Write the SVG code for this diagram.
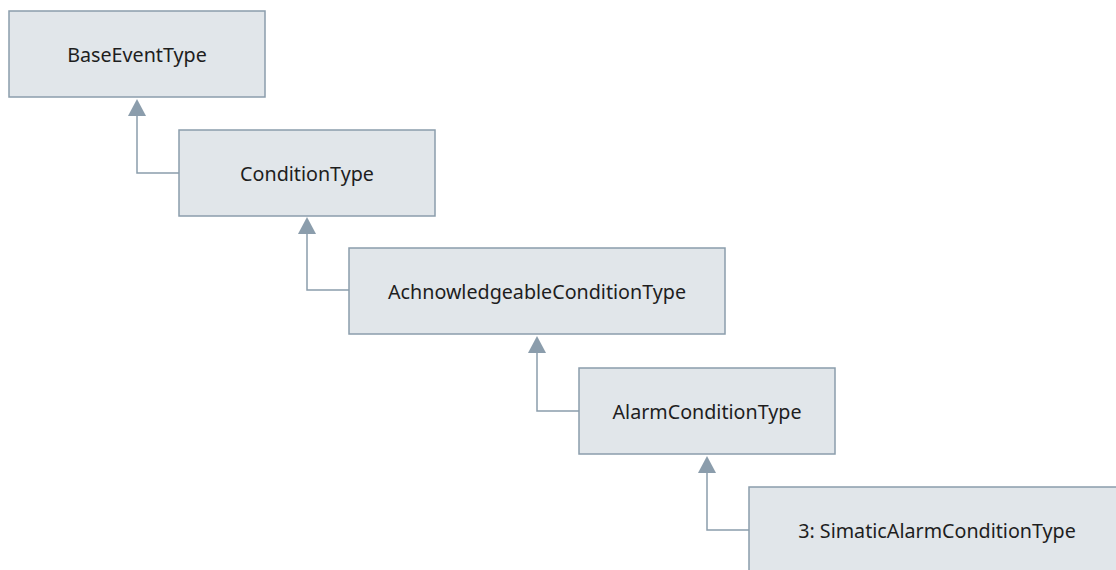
<svg xmlns="http://www.w3.org/2000/svg" width="1116" height="570" viewBox="0 0 1116 570">
<defs>
<style>
.box{fill:#e1e6ea;stroke:#8b9dac;stroke-width:1.5}
.lbl{font-family:"Noto Sans","Open Sans","DejaVu Sans",sans-serif;font-size:19.7px;fill:#1e1e1e;text-anchor:middle;dominant-baseline:central}
.con{fill:none;stroke:#8b9dac;stroke-width:1.5}
.head{fill:#8b9dac}
</style>
</defs>
<rect width="1116" height="570" fill="#ffffff"/>
<g id="connectors">
<path class="con" d="M137 114 V173 H179"/>
<polygon class="head" points="137,99 128,116 146,116"/>
<path class="con" d="M307 232 V290 H349"/>
<polygon class="head" points="307,217 298,234 316,234"/>
<path class="con" d="M537 351 V411 H579"/>
<polygon class="head" points="537,336 528,353 546,353"/>
<path class="con" d="M707 471 V530 H749"/>
<polygon class="head" points="707,456 698,473 716,473"/>
</g>
<g id="n1"><rect class="box" x="9" y="11" width="256" height="86"/><text class="lbl" x="137" y="54">BaseEventType</text></g>
<g id="n2"><rect class="box" x="179" y="130" width="256" height="86"/><text class="lbl" x="307" y="173">ConditionType</text></g>
<g id="n3"><rect class="box" x="349" y="248" width="376" height="86"/><text class="lbl" x="537" y="291">AchnowledgeableConditionType</text></g>
<g id="n4"><rect class="box" x="579" y="368" width="256" height="86"/><text class="lbl" x="707" y="411">AlarmConditionType</text></g>
<g id="n5"><rect class="box" x="749" y="487" width="376" height="86"/><text class="lbl" x="937" y="530">3: SimaticAlarmConditionType</text></g>
</svg>
